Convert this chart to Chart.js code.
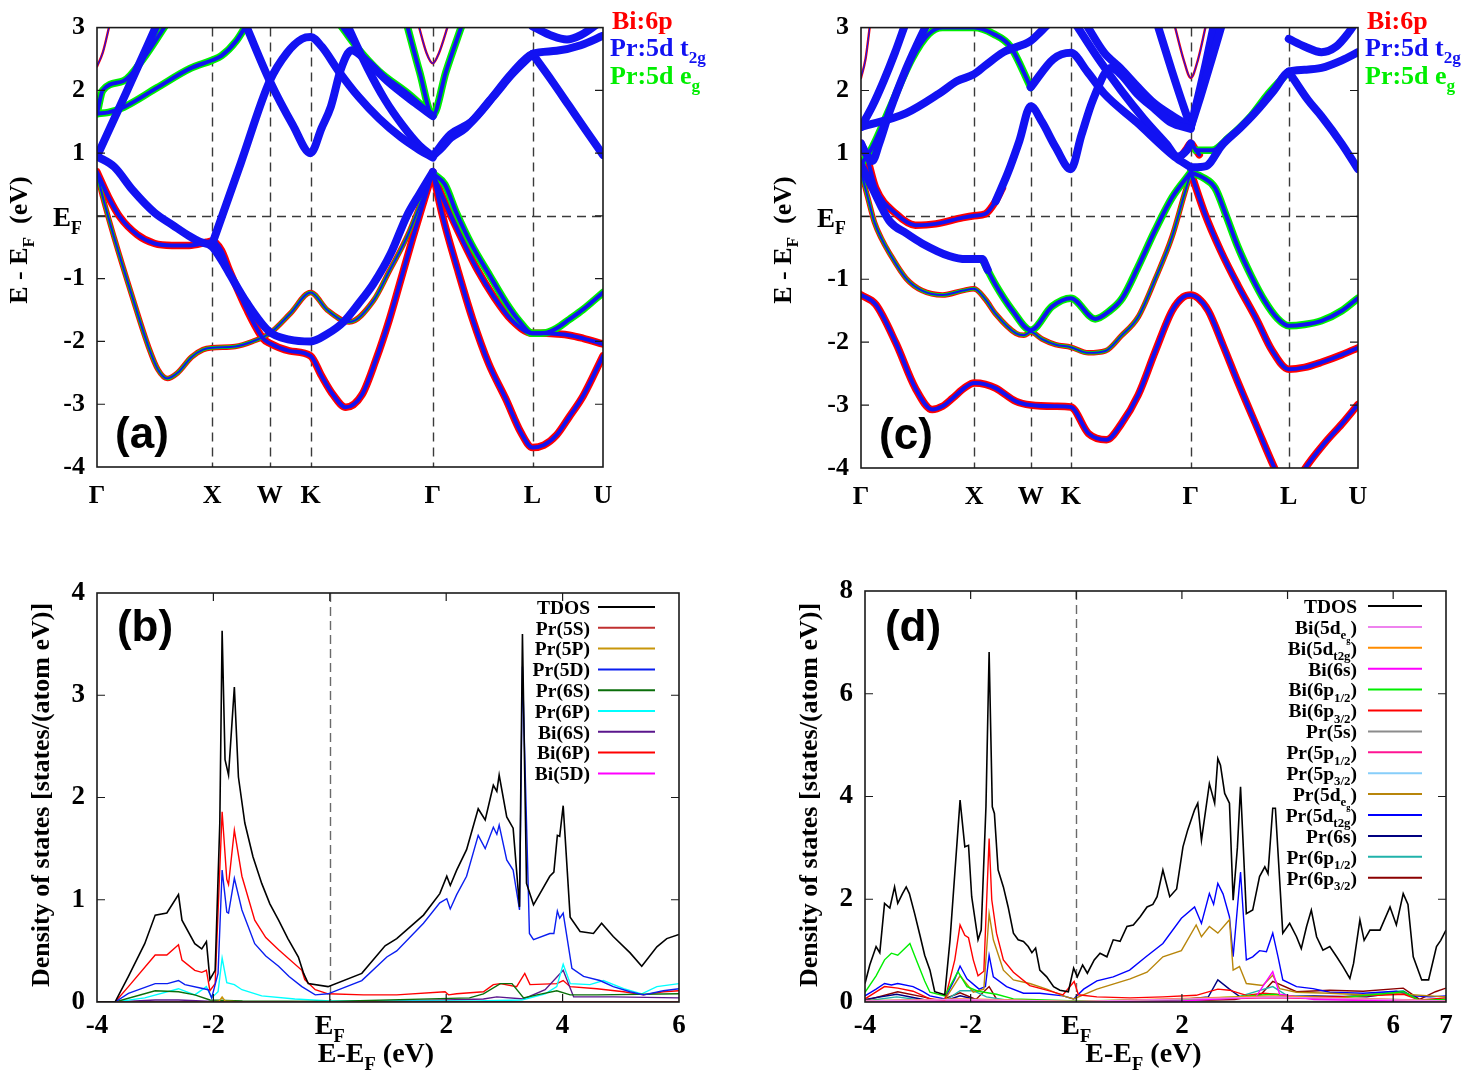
<!DOCTYPE html>
<html>
<head>
<title>Band structure and DOS</title>
<script src="https://cdn.jsdelivr.net/npm/chart.js"></script>
<style>
    body { margin: 0; background: #fff; }
    canvas { position: absolute; }
</style>
</head>
<body>
<canvas id="bandA"></canvas>
<canvas id="bandC"></canvas>
<canvas id="dosB"></canvas>
<canvas id="dosD"></canvas>
<script>
// ---- k-path (high-symmetry points) ----
const kTicks = [0, 1.0, 1.5, 1.854, 2.915, 3.781, 4.393];
const kLabels = ['Γ', 'X', 'W', 'K', 'Γ', 'L', 'U'];

// ---- panel (a) bands: [k, E-EF] ----
const aB1 = [[0,0.68],[0.05,0.3],[0.15,-0.35],[0.3,-1.25],[0.45,-2.1],[0.53,-2.45],[0.61,-2.59],[0.7,-2.5],[0.82,-2.25],[0.92,-2.13],[1.0,-2.1],[1.2,-2.08],[1.35,-2.0],[1.5,-1.87],[1.68,-1.55],[1.854,-1.22],[2.0,-1.5],[2.19,-1.69],[2.4,-1.35],[2.54,-0.87],[2.7,-0.3],[2.83,0.3],[2.915,0.68]];
const aB1r = [[2.915,0.68],[3.02,0.5],[3.12,0.05],[3.25,-0.45],[3.41,-0.95],[3.55,-1.38],[3.66,-1.66],[3.781,-1.87],[3.9,-1.86],[3.99,-1.79],[4.1,-1.65],[4.22,-1.49],[4.393,-1.22]];
const aB2 = [[0,0.7],[0.1,0.3],[0.2,-0.02],[0.35,-0.3],[0.5,-0.44],[0.65,-0.47],[0.8,-0.47],[0.95,-0.42],[1.0,-0.4],[1.08,-0.55],[1.15,-0.87],[1.3,-1.49],[1.44,-1.95],[1.5,-2.03],[1.67,-2.15],[1.854,-2.23],[1.95,-2.55],[2.05,-2.85],[2.16,-3.05],[2.3,-2.85],[2.42,-2.3],[2.54,-1.64],[2.64,-1.0],[2.74,-0.36],[2.84,0.25],[2.915,0.7]];
const aB2r = [[2.915,0.7],[3.0,0.0],[3.13,-0.85],[3.26,-1.64],[3.4,-2.35],[3.55,-2.92],[3.68,-3.45],[3.781,-3.69],[3.88,-3.65],[3.99,-3.49],[4.1,-3.2],[4.22,-2.87],[4.393,-2.23]];
const aB3r = [[2.915,0.68],[3.0,0.3],[3.15,-0.3],[3.3,-0.85],[3.45,-1.3],[3.6,-1.66],[3.781,-1.87],[3.9,-1.87],[4.0,-1.88],[4.1,-1.9],[4.22,-1.95],[4.393,-2.04]];
const aB3 = [[0,0.95],[0.15,0.78],[0.31,0.41],[0.5,0.05],[0.66,-0.15],[0.8,-0.32],[0.89,-0.41],[1.0,-0.49],[1.08,-0.7],[1.15,-0.92],[1.3,-1.38],[1.5,-1.85],[1.67,-1.97],[1.854,-2.0],[2.0,-1.88],[2.14,-1.69],[2.27,-1.4],[2.4,-1.08],[2.55,-0.6],[2.69,0.0],[2.8,0.35],[2.915,0.7]];
const aB4 = [[0,0.95],[0.25,1.95],[0.52,3.05]];
const aB5 = [[1.0,-0.45],[1.25,0.85],[1.5,2.15],[1.65,2.6],[1.78,2.82],[1.854,2.85],[1.95,2.7],[2.1,2.3],[2.27,1.9],[2.45,1.55],[2.64,1.25],[2.8,1.05],[2.915,0.93]];
const aB6 = [[1.29,3.05],[1.5,2.15],[1.7,1.45],[1.854,1.0],[1.95,1.4],[2.03,1.74],[2.12,2.35],[2.21,2.64],[2.35,2.45],[2.52,2.15],[2.76,1.8],[2.915,1.59]];
const aB7 = [[2.17,3.05],[2.35,2.35],[2.5,1.85],[2.65,1.45],[2.8,1.12],[2.915,0.95]];
const aB8 = [[2.11,3.05],[2.25,2.7],[2.45,2.3],[2.7,1.95],[2.915,1.6]];
const aB9 = [[2.69,3.05],[2.8,2.3],[2.915,1.6],[3.03,2.3],[3.17,3.05]];
const aB10 = [[2.79,3.05],[2.86,2.6],[2.915,2.43],[2.97,2.6],[3.05,3.05]];
const aB11 = [[2.915,0.95],[3.0,1.1],[3.07,1.24],[3.2,1.4],[3.41,1.84],[3.6,2.27],[3.781,2.58],[3.99,2.63],[4.2,2.72],[4.393,2.87]];
const aB11b = [[2.915,0.95],[3.07,1.3],[3.25,1.5],[3.45,1.92],[3.6,2.25],[3.781,2.58]];
const aB12 = [[3.781,2.58],[3.95,2.15],[4.1,1.75],[4.25,1.35],[4.393,0.97]];
const aB13 = [[3.781,3.02],[3.95,2.87],[4.08,2.81],[4.2,2.88],[4.34,3.05]];
const aB14 = [[0,1.63],[0.1,1.65],[0.23,1.73],[0.52,2.04],[0.81,2.35],[1.0,2.48],[1.08,2.55],[1.21,2.79],[1.3,3.05]];
const aB15 = [[0,1.63],[0.05,2.0],[0.23,2.15],[0.4,2.5],[0.6,3.05]];
const aB16 = [[0,2.38],[0.05,2.6],[0.11,3.05]];

// ---- panel (c) bands ----
const cB1 = [[0,-1.25],[0.13,-1.4],[0.31,-2.02],[0.48,-2.73],[0.63,-3.07],[0.72,-3.02],[0.81,-2.89],[0.92,-2.72],[1.0,-2.65],[1.1,-2.67],[1.19,-2.73],[1.37,-2.94],[1.5,-3.0],[1.72,-3.02],[1.854,-3.03],[2.01,-3.45],[2.17,-3.55],[2.3,-3.3],[2.45,-2.84],[2.6,-2.15],[2.75,-1.5],[2.85,-1.28],[2.915,-1.25],[2.98,-1.3],[3.07,-1.5],[3.2,-2.05],[3.33,-2.63],[3.5,-3.35],[3.66,-4.02],[3.781,-4.45],[3.92,-4.02],[4.1,-3.6],[4.25,-3.3],[4.393,-2.99]];
const cB2 = [[0,0.7],[0.06,0.3],[0.12,-0.1],[0.18,-0.35],[0.25,-0.58],[0.4,-0.99],[0.54,-1.18],[0.72,-1.25],[0.9,-1.18],[1.0,-1.15],[1.1,-1.32],[1.19,-1.55],[1.37,-1.86],[1.44,-1.89],[1.5,-1.84],[1.6,-1.95],[1.72,-2.04],[1.854,-2.08],[2.01,-2.17],[2.16,-2.14],[2.3,-1.9],[2.45,-1.6],[2.6,-1.0],[2.75,-0.32],[2.85,0.3],[2.915,0.7]];
const cB2r = [[2.915,0.7],[3.04,0.04],[3.18,-0.55],[3.33,-1.09],[3.5,-1.65],[3.63,-2.12],[3.781,-2.43],[3.92,-2.4],[4.07,-2.32],[4.25,-2.2],[4.393,-2.09]];
const cB3a = [[0,0.82],[0.1,0.45],[0.25,-0.07],[0.4,-0.27],[0.54,-0.43],[0.78,-0.63],[0.93,-0.68],[1.0,-0.68],[1.07,-0.68],[1.12,-0.85]];
const cB3b = [[1.07,-0.68],[1.19,-1.09],[1.34,-1.5],[1.5,-1.81],[1.69,-1.43],[1.854,-1.3],[2.07,-1.63],[2.2,-1.5],[2.31,-1.3],[2.45,-0.8],[2.6,-0.22],[2.75,0.3],[2.915,0.7]];
const cB3r = [[2.915,0.7],[3.02,0.62],[3.13,0.45],[3.23,0.0],[3.33,-0.48],[3.45,-0.95],[3.57,-1.35],[3.68,-1.62],[3.781,-1.74],[3.92,-1.72],[4.07,-1.66],[4.25,-1.5],[4.393,-1.3]];
const cB4a = [[0,1.16],[0.05,0.95],[0.13,0.45],[0.31,0.04],[0.48,-0.14],[0.66,-0.12],[0.9,-0.02],[1.0,0.01],[1.1,0.04],[1.19,0.24],[1.25,0.45]];
const cB4b = [[1.19,0.24],[1.3,0.7],[1.4,1.2],[1.5,1.75],[1.6,1.5],[1.72,1.1],[1.854,0.75],[1.95,1.3],[2.05,1.85],[2.21,2.36],[2.3,2.25],[2.44,1.95],[2.6,1.7],[2.74,1.49],[2.915,1.39]];
const cB5 = [[0,0.82],[0.1,1.1],[0.25,1.7],[0.45,2.5],[0.6,2.9],[0.72,3.0],[1.0,3.0],[1.17,2.9],[1.32,2.7],[1.5,2.05]];
const cB5b = [[1.5,2.05],[1.7,2.5],[1.854,2.6],[2.0,2.3],[2.15,1.95],[2.44,1.49],[2.77,0.95],[2.915,0.78]];
const cB6 = [[0,1.42],[0.4,1.64],[0.69,1.95],[0.85,2.15],[1.0,2.26],[1.1,2.4],[1.26,2.61],[1.5,2.79],[1.58,2.92],[1.65,3.05]];
const cB7 = [[0,1.16],[0.05,0.98],[0.1,0.88],[0.16,1.15],[0.25,1.65],[0.4,2.35],[0.5,2.75],[0.58,3.05]];
const cB8 = [[0,1.42],[0.1,1.75],[0.2,2.15],[0.3,2.6],[0.39,3.05]];
const cB9 = [[0,2.2],[0.04,2.5],[0.08,3.05]];
const cB10 = [[1.99,3.05],[2.15,2.6],[2.29,2.36],[2.45,2.05],[2.59,1.8],[2.75,1.6],[2.915,1.42]];
const cB11 = [[1.9,3.05],[2.1,2.5],[2.3,2.0],[2.5,1.55],[2.7,1.15],[2.8,0.95],[2.88,1.05],[2.915,1.16]];
const cB12 = [[2.84,0.98],[2.88,1.08],[2.915,1.16],[2.95,1.08],[2.99,0.98]];
const cB13 = [[2.915,1.42],[3.0,1.9],[3.1,2.5],[3.19,3.05]];
const cB14 = [[2.915,1.42],[2.98,1.9],[3.05,2.45],[3.12,3.05]];
const cB15 = [[2.77,3.05],[2.85,2.5],[2.915,2.2],[2.98,2.5],[3.05,3.05]];
const cB16 = [[2.62,3.05],[2.75,2.3],[2.86,1.7],[2.915,1.42]];
const cB17 = [[2.915,0.78],[3.05,0.8],[3.19,1.13],[3.35,1.4],[3.48,1.64],[3.65,2.0],[3.781,2.3],[3.92,2.33],[4.07,2.36],[4.25,2.48],[4.393,2.61]];
const cB18 = [[2.96,1.05],[3.1,1.05],[3.25,1.25],[3.45,1.6],[3.6,1.95],[3.781,2.3]];
const cB19 = [[3.781,2.3],[3.95,1.85],[4.07,1.59],[4.25,1.15],[4.393,0.75]];
const cB20 = [[3.781,2.82],[3.92,2.7],[4.07,2.61],[4.2,2.7],[4.31,2.92],[4.36,3.05]];

// orbital character of each band: bi = Bi 6p weight, eg = Pr 5d eg, t2g = Pr 5d t2g
const bandsA = [[aB1,'mix'],[aB1r,'eg'],[aB2,'bi'],[aB2r,'bi'],[aB3r,'bi'],[aB3,'t2g'],[aB4,'t2g'],[aB5,'t2g'],[aB6,'t2g'],[aB7,'t2g'],[aB8,'eg'],[aB9,'eg'],[aB10,'thin'],[aB11,'t2g'],[aB11b,'t2g'],[aB12,'t2g'],[aB13,'t2g'],[aB14,'eg'],[aB15,'eg'],[aB16,'thin']];
const bandsC = [[cB1,'bi'],[cB2,'mix'],[cB2r,'bi'],[cB3a,'t2g'],[cB3b,'eg'],[cB3r,'eg'],[cB4a,'bi'],[cB4b,'t2g'],[cB5,'eg'],[cB5b,'t2g'],[cB6,'t2g'],[cB7,'t2g'],[cB8,'t2g'],[cB9,'thin'],[cB10,'t2g'],[cB11,'t2g'],[cB12,'bi'],[cB13,'t2g'],[cB14,'t2g'],[cB15,'thin'],[cB16,'t2g'],[cB17,'t2g'],[cB18,'eg'],[cB19,'t2g'],[cB20,'t2g']];

// ---- panel (b) DOS: [E-EF, states/(atom eV)] ----
const bTdos = [[-4,0],[-3.69,0],[-3.46,0.25],[-3.18,0.57],[-3.0,0.85],[-2.8,0.87],[-2.6,1.05],[-2.54,0.8],[-2.32,0.57],[-2.2,0.52],[-2.12,0.59],[-2.06,0.22],[-1.97,0.31],[-1.89,1.75],[-1.85,3.63],[-1.8,2.37],[-1.74,2.22],[-1.64,3.08],[-1.57,2.2],[-1.46,1.75],[-1.32,1.42],[-1.17,1.16],[-1.03,0.96],[-0.88,0.8],[-0.72,0.62],[-0.54,0.44],[-0.45,0.28],[-0.37,0.18],[-0.03,0.15],[0.55,0.28],[0.95,0.55],[1.15,0.62],[1.61,0.85],[1.89,1.06],[2.01,1.23],[2.07,1.14],[2.18,1.29],[2.35,1.49],[2.55,1.89],[2.67,1.78],[2.81,2.12],[2.87,2.06],[2.91,2.22],[3.04,1.81],[3.15,1.7],[3.26,0.93],[3.31,3.6],[3.38,1.16],[3.5,0.95],[3.78,1.23],[3.85,1.27],[3.91,1.63],[3.95,1.62],[4.01,1.92],[4.13,0.83],[4.3,0.69],[4.53,0.67],[4.67,0.77],[4.87,0.64],[5.16,0.48],[5.36,0.35],[5.62,0.54],[5.79,0.62],[6.0,0.66]];
const bPr5S = [[-4,0],[6,0.003]];
const bPr5P = [[-4,0],[-2.0,0],[-1.9,0.01],[-1.85,0.05],[-1.8,0.01],[-1.5,0],[6,0]];
const bPr5D = [[-4,0],[-3.69,0],[-3.46,0.085],[-3.0,0.18],[-2.79,0.18],[-2.6,0.21],[-2.49,0.17],[-2.09,0.12],[-2.03,0.04],[-1.92,0.28],[-1.85,1.29],[-1.77,0.88],[-1.74,0.87],[-1.64,1.21],[-1.51,0.9],[-1.29,0.57],[-1.1,0.45],[-0.88,0.35],[-0.7,0.25],[-0.48,0.15],[-0.25,0.07],[-0.03,0.08],[0.55,0.21],[0.98,0.44],[1.15,0.5],[1.61,0.77],[1.89,0.97],[2.01,1.01],[2.07,0.91],[2.18,1.05],[2.35,1.23],[2.55,1.63],[2.67,1.5],[2.81,1.71],[2.87,1.64],[2.91,1.73],[3.04,1.39],[3.15,1.29],[3.26,0.9],[3.31,3.28],[3.43,0.67],[3.5,0.61],[3.78,0.67],[3.85,0.67],[3.91,0.89],[3.95,0.82],[4.01,0.87],[4.16,0.33],[4.36,0.25],[4.64,0.21],[4.87,0.15],[5.16,0.1],[5.39,0.07],[5.73,0.11],[6.0,0.13]];
const bPr6S = [[-4,0],[-3.69,0],[-3.0,0.11],[-2.6,0.1],[-2.32,0.07],[-2.06,0.02],[-1.5,0.01],[0,0.005],[2.4,0.04],[2.64,0.08],[2.93,0.18],[3.13,0.18],[3.33,0.04],[3.56,0.07],[3.9,0.11],[4.13,0.07],[4.59,0.07],[6.0,0.08]];
const bPr6P = [[-4,0],[-3.69,0],[-3.18,0.04],[-2.6,0.13],[-2.32,0.07],[-2.12,0.15],[-2.03,0.04],[-1.92,0.1],[-1.85,0.43],[-1.77,0.19],[-1.64,0.17],[-1.51,0.12],[-1.17,0.06],[-0.6,0.03],[0,0.01],[2.5,0.01],[3.3,0.02],[3.7,0.08],[3.9,0.15],[4.01,0.37],[4.13,0.18],[4.47,0.17],[4.7,0.21],[5.05,0.13],[5.36,0.08],[5.62,0.15],[6.0,0.18]];
const bBi6S = [[-4,0],[-3.69,0],[-3.0,0.02],[-2.6,0.02],[-2.0,0.005],[0,0],[2.0,0.02],[2.64,0.03],[2.87,0.05],[3.33,0.03],[3.7,0.12],[4.01,0.31],[4.19,0.05],[4.87,0.05],[6.0,0.04]];
const bBi6P = [[-4,0],[-3.69,0],[-3.46,0.15],[-3.0,0.46],[-2.8,0.46],[-2.6,0.56],[-2.54,0.41],[-2.32,0.31],[-2.2,0.29],[-2.12,0.31],[-2.06,0.11],[-1.97,0.18],[-1.85,1.86],[-1.77,1.2],[-1.74,1.15],[-1.64,1.68],[-1.51,1.23],[-1.29,0.8],[-1.1,0.63],[-0.88,0.51],[-0.48,0.31],[-0.43,0.22],[-0.25,0.12],[-0.03,0.08],[0.58,0.07],[1.15,0.07],[1.98,0.1],[2.04,0.07],[2.18,0.08],[2.64,0.1],[2.81,0.17],[2.93,0.18],[3.21,0.15],[3.35,0.28],[3.44,0.17],[3.9,0.18],[4.01,0.21],[4.13,0.15],[4.59,0.13],[5.05,0.1],[5.39,0.07],[5.73,0.1],[6.0,0.11]];
const bBi5D = [[-4,0],[6,0]];

// ---- panel (d) DOS ----
const dTdos = [[-4,0.36],[-3.91,0.72],[-3.79,1.08],[-3.72,0.96],[-3.63,1.92],[-3.53,1.83],[-3.44,2.24],[-3.38,1.92],[-3.29,2.11],[-3.22,2.24],[-3.16,2.11],[-3.06,1.72],[-2.96,1.3],[-2.87,0.91],[-2.77,0.62],[-2.68,0.2],[-2.49,0.14],[-2.39,1.21],[-2.3,2.5],[-2.2,3.93],[-2.11,3.02],[-2.04,3.05],[-1.98,2.05],[-1.86,1.21],[-1.8,1.4],[-1.71,3.8],[-1.65,6.81],[-1.59,3.8],[-1.55,3.67],[-1.48,2.57],[-1.38,2.24],[-1.29,1.85],[-1.19,1.34],[-1.1,1.21],[-1.0,1.18],[-0.91,1.08],[-0.84,0.96],[-0.77,1.05],[-0.69,0.62],[-0.56,0.49],[-0.43,0.3],[-0.31,0.23],[-0.15,0.2],[-0.05,0.66],[0.02,0.49],[0.12,0.72],[0.21,0.56],[0.34,0.82],[0.45,0.95],[0.58,0.88],[0.7,1.21],[0.83,1.18],[0.96,1.47],[1.08,1.5],[1.21,1.66],[1.34,1.85],[1.45,1.9],[1.53,2.05],[1.64,2.57],[1.77,2.05],[1.9,2.2],[2.02,3.02],[2.11,3.35],[2.24,3.74],[2.3,3.87],[2.37,3.15],[2.52,4.25],[2.62,3.87],[2.68,4.74],[2.73,4.61],[2.81,4.06],[2.9,3.87],[2.97,1.98],[3.05,3.0],[3.11,4.19],[3.22,1.72],[3.34,1.79],[3.47,2.44],[3.57,2.63],[3.63,2.5],[3.72,3.77],[3.77,3.77],[3.91,1.34],[4.04,1.53],[4.17,1.27],[4.26,1.04],[4.36,1.47],[4.45,1.79],[4.55,1.27],[4.67,1.01],[4.8,1.08],[4.93,0.88],[5.05,0.69],[5.18,0.46],[5.25,0.75],[5.37,1.6],[5.45,1.2],[5.56,1.4],[5.75,1.4],[5.94,1.85],[6.06,1.5],[6.19,2.11],[6.28,1.9],[6.38,0.88],[6.54,0.43],[6.67,0.43],[6.82,1.08],[6.9,1.2],[7.0,1.4]];
const dBi5deg = [[-4,0.02],[-2.2,0.05],[-1.65,0.04],[0,0.01],[3.72,0.1],[7,0.02]];
const dBi5dt2g = [[-4,0.02],[-2.2,0.06],[-1.65,0.05],[0,0.01],[3.72,0.12],[7,0.02]];
const dBi6s = [[-4,0.01],[-2,0.01],[0,0],[2,0.02],[3.4,0.1],[3.72,0.59],[3.85,0.15],[4.5,0.05],[5.5,0.03],[7,0.02]];
const dBi6p12 = [[-4,0.19],[-3.79,0.51],[-3.63,0.82],[-3.5,0.95],[-3.38,0.91],[-3.15,1.14],[-3.03,0.82],[-2.87,0.41],[-2.77,0.19],[-2.49,0.12],[-2.24,0.59],[-2.07,0.3],[-1.86,0.21],[-1.51,0.15],[-1.19,0.06],[0,0.02],[2.0,0.05],[3.0,0.1],[3.72,0.15],[4.2,0.1],[5.0,0.08],[6.19,0.2],[6.5,0.03],[7,0.05]];
const dBi6p32 = [[-4,0.06],[-3.63,0.3],[-3.38,0.27],[-3.09,0.21],[-2.77,0.06],[-2.49,0.03],[-2.3,0.82],[-2.2,1.5],[-2.11,1.3],[-2.04,1.25],[-1.95,0.82],[-1.86,0.51],[-1.75,0.6],[-1.65,3.18],[-1.6,1.99],[-1.51,1.34],[-1.38,0.82],[-1.19,0.58],[-0.88,0.32],[-0.56,0.23],[-0.25,0.14],[-0.04,0.4],[0.04,0.14],[0.39,0.1],[1.02,0.08],[1.64,0.1],[2.27,0.13],[2.68,0.25],[2.9,0.23],[3.22,0.13],[3.53,0.17],[3.8,0.15],[4.17,0.1],[5.0,0.1],[6.2,0.15],[6.5,0.04],[7,0.08]];
const dPr5s = [[-4,0.01],[7,0.01]];
const dPr5p12 = [[-4,0.02],[-2.2,0.04],[0,0.01],[3.72,0.08],[7,0.02]];
const dPr5p32 = [[-4,0.02],[-2.2,0.05],[0,0.01],[3.72,0.1],[7,0.03]];
const dPr5deg = [[-4,0.03],[-2.6,0.03],[-2.49,0.04],[-2.2,0.51],[-1.95,0.19],[-1.75,0.25],[-1.65,1.72],[-1.57,1.21],[-1.38,0.62],[-1.19,0.43],[-0.88,0.36],[-0.56,0.25],[-0.25,0.12],[-0.05,0.06],[0.39,0.25],[1.02,0.45],[1.34,0.58],[1.64,0.88],[1.99,1.0],[2.27,1.5],[2.37,1.27],[2.52,1.47],[2.68,1.34],[2.9,1.6],[2.97,0.62],[3.09,0.69],[3.22,0.36],[3.53,0.32],[3.72,0.52],[3.85,0.26],[4.17,0.19],[4.8,0.17],[5.43,0.14],[6.06,0.16],[7.0,0.1]];
const dPr5dt2g = [[-4,0.12],[-3.79,0.25],[-3.63,0.36],[-3.5,0.33],[-3.38,0.36],[-3.09,0.3],[-2.9,0.2],[-2.77,0.12],[-2.49,0.06],[-2.3,0.45],[-2.2,0.7],[-2.07,0.45],[-1.84,0.25],[-1.72,0.3],[-1.65,0.91],[-1.57,0.49],[-1.32,0.3],[-1.0,0.17],[-0.69,0.17],[-0.25,0.12],[-0.05,0.06],[0.14,0.25],[0.39,0.41],[0.7,0.49],[1.01,0.62],[1.32,0.88],[1.64,1.14],[1.99,1.63],[2.24,1.85],[2.37,1.53],[2.52,2.11],[2.6,1.9],[2.68,2.31],[2.78,2.1],[2.9,1.66],[2.97,0.88],[3.11,2.53],[3.22,0.82],[3.34,0.88],[3.47,1.0],[3.6,0.98],[3.72,1.34],[3.82,0.88],[3.91,0.43],[4.17,0.3],[4.48,0.26],[4.8,0.19],[5.43,0.17],[6.06,0.21],[6.38,0.12],[6.7,0.1],[7.0,0.12]];
const dPr6s = [[-4,0.05],[-3.4,0.15],[-2.8,0.03],[-2.49,0.02],[-2.2,0.12],[-1.9,0.05],[-1.0,0.01],[0,0.01],[2.0,0.05],[2.5,0.1],[2.68,0.43],[2.9,0.25],[3.1,0.1],[3.72,0.1],[4.5,0.12],[5.5,0.1],[6.2,0.2],[6.5,0.03],[7,0.05]];
const dPr6p12 = [[-4,0.02],[-3.4,0.1],[-2.8,0.02],[-2.49,0.02],[-2.2,0.22],[-1.95,0.22],[-1.7,0.1],[-1.2,0.02],[0,0.01],[2,0.03],[3,0.08],[3.72,0.3],[4,0.12],[5,0.1],[6.19,0.22],[6.5,0.02],[7,0.05]];
const dPr6p32 = [[-4,0.03],[-3.38,0.2],[-2.9,0.1],[-2.6,0.02],[-2.2,0.18],[-1.9,0.05],[-1.65,0.3],[-1.5,0.04],[0,0.01],[2,0.02],[3.0,0.05],[3.5,0.15],[3.72,0.4],[4.17,0.2],[4.8,0.23],[5.43,0.21],[6.19,0.27],[6.5,0.05],[6.8,0.2],[7.0,0.27]];

// legend entries: [label runs, series]
const seriesB = [
    [['TDOS'], bTdos], [['Pr(5S)'], bPr5S], [['Pr(5P)'], bPr5P], [['Pr(5D)'], bPr5D],
    [['Pr(6S)'], bPr6S], [['Pr(6P)'], bPr6P], [['Bi(6S)'], bBi6S], [['Bi(6P)'], bBi6P], [['Bi(5D)'], bBi5D]
];
const seriesD = [
    [['TDOS'], dTdos],
    [['Bi(5d', ['e', 1], ['g', 2], ')'], dBi5deg],
    [['Bi(5d', ['t2g', 1], ')'], dBi5dt2g],
    [['Bi(6s)'], dBi6s],
    [['Bi(6p', ['1/2', 1], ')'], dBi6p12],
    [['Bi(6p', ['3/2', 1], ')'], dBi6p32],
    [['Pr(5s)'], dPr5s],
    [['Pr(5p', ['1/2', 1], ')'], dPr5p12],
    [['Pr(5p', ['3/2', 1], ')'], dPr5p32],
    [['Pr(5d', ['e', 1], ['g', 2], ')'], dPr5deg],
    [['Pr(5d', ['t2g', 1], ')'], dPr5dt2g],
    [['Pr(6s)'], dPr6s],
    [['Pr(6p', ['1/2', 1], ')'], dPr6p12],
    [['Pr(6p', ['3/2', 1], ')'], dPr6p32]
];

// ---------------- styling ----------------
const SERIF = '"Liberation Serif", "Times New Roman", serif';
const SANS = '"Liberation Sans", Arial, sans-serif';
const RED = '#ff0000', BLUE = '#1212f2', GREEN = '#00ee00';
const colorsB = ['#000000', '#c03030', '#c8960a', '#0a1ef0', '#0a6e0a', '#00ffff', '#5a168c', '#ff0000', '#ff00ff'];
const colorsD = ['#000000', '#ee82ee', '#ff8c00', '#ff00ff', '#00ee00', '#ff0000', '#8c8c8c', '#ff1493',
                 '#87cefa', '#b8860b', '#0000ff', '#000080', '#20b2aa', '#8b0000'];

// layers per orbital character: [color, width, order]
const bandLayers = {
    bi:   [[RED, 7.5, 6], [BLUE, 4, 1]],
    eg:   [[GREEN, 7.5, 5], [BLUE, 4, 1]],
    t2g:  [[BLUE, 8, 3]],
    mix:  [[RED, 5.5, 6], [GREEN, 3.5, 5], [BLUE, 2, 1]],
    thin: [[RED, 2.4, 6], [BLUE, 1.1, 1]]
};

const panels = {
    a: { box: { x: 0, y: 0, w: 740, h: 540 },     area: { l: 97, t: 13, r: 603, b: 467 } },
    c: { box: { x: 740, y: 0, w: 738, h: 540 },   area: { l: 861, t: 13, r: 1358, b: 468 } },
    b: { box: { x: 0, y: 560, w: 740, h: 532 },   area: { l: 97, t: 593, r: 679, b: 1002 } },
    d: { box: { x: 740, y: 560, w: 738, h: 532 }, area: { l: 865, t: 591, r: 1446, b: 1002 } }
};

function drawRuns(ctx, x, y, runs, size, color, align, rotate, family, weight) {
    ctx.save();
    ctx.translate(x, y);
    if (rotate) ctx.rotate(rotate);
    const parts = runs.map(r => {
        const t = Array.isArray(r) ? r[0] : r;
        const lvl = Array.isArray(r) ? r[1] : 0;
        const s = size * Math.pow(0.66, lvl);
        const font = `${weight || 'bold'} ${s}px ${family || SERIF}`;
        ctx.font = font;
        const dy = lvl === 0 ? 0 : lvl === 1 ? size * 0.28 : size * 0.46;
        return { t, font, w: ctx.measureText(t).width, dy };
    });
    const total = parts.reduce((s, p) => s + p.w, 0);
    let px = align === 'right' ? -total : align === 'center' ? -total / 2 : 0;
    ctx.fillStyle = color || '#000';
    ctx.textBaseline = 'alphabetic';
    const base = size * 0.35;
    parts.forEach(p => { ctx.font = p.font; ctx.fillText(p.t, px, base + p.dy); px += p.w; });
    ctx.restore();
}

function makeDecor(panel, cfg) {
    const ox = panel.box.x, oy = panel.box.y;
    return {
        id: 'decor',
        beforeDatasetsDraw(chart) {
            const { ctx, chartArea: a, scales: { x, y } } = chart;
            ctx.save();
            ctx.strokeStyle = cfg.dashColor;
            ctx.lineWidth = 1.4;
            ctx.setLineDash(cfg.dash);
            (cfg.vLines || []).forEach(v => {
                const px = Math.round(x.getPixelForValue(v)) + 0.5;
                ctx.beginPath(); ctx.moveTo(px, a.top); ctx.lineTo(px, a.bottom); ctx.stroke();
            });
            (cfg.hLines || []).forEach(v => {
                const py = Math.round(y.getPixelForValue(v)) + 0.5;
                ctx.beginPath(); ctx.moveTo(a.left, py); ctx.lineTo(a.right, py); ctx.stroke();
            });
            ctx.restore();
        },
        afterDraw(chart) {
            const { ctx, chartArea: a, scales: { x, y } } = chart;
            ctx.save();
            ctx.strokeStyle = '#1a1a1a';
            ctx.lineWidth = 1.6;
            ctx.strokeRect(a.left, a.top, a.right - a.left, a.bottom - a.top);
            ctx.lineWidth = 1.2;
            (cfg.yTicks || []).forEach(v => {
                const py = y.getPixelForValue(v);
                ctx.beginPath();
                ctx.moveTo(a.left, py); ctx.lineTo(a.left + 8, py);
                ctx.moveTo(a.right, py); ctx.lineTo(a.right - 8, py);
                ctx.stroke();
            });
            (cfg.xTicks || []).forEach(v => {
                const px = x.getPixelForValue(v);
                ctx.beginPath();
                ctx.moveTo(px, a.bottom); ctx.lineTo(px, a.bottom - 8);
                ctx.moveTo(px, a.top); ctx.lineTo(px, a.top + 8);
                ctx.stroke();
            });
            ctx.restore();
            // E_F tick labels
            if (cfg.efY) drawRuns(ctx, a.left - cfg.efY, y.getPixelForValue(0) + 1, ['E', ['F', 1]], 27, '#000', 'right');
            if (cfg.efX) drawRuns(ctx, x.getPixelForValue(0), a.bottom + cfg.efX, ['E', ['F', 1]], 28, '#000', 'center');
            // legend samples
            (cfg.legend || []).forEach((it, i) => {
                const ly = it.y0 - oy + i * it.dy;
                drawRuns(ctx, it.tx - ox, ly, it.runs, it.size, '#000', 'right');
                ctx.save();
                ctx.strokeStyle = it.color; ctx.lineWidth = 2;
                ctx.beginPath(); ctx.moveTo(it.x1 - ox, ly); ctx.lineTo(it.x2 - ox, ly); ctx.stroke();
                ctx.restore();
            });
            (cfg.texts || []).forEach(t => drawRuns(ctx, t.x - ox, t.y - oy, t.runs, t.size, t.color, t.align, t.rotate, t.family, t.weight));
        }
    };
}

function baseOptions(panel, xs, ys, fontSize) {
    const { box, area } = panel;
    const tickFont = { family: SERIF, size: fontSize, weight: 'bold' };
    return {
        responsive: false,
        animation: false,
        events: [],
        layout: { padding: { left: 0, bottom: 0, top: area.t - box.y, right: box.x + box.w - area.r } },
        plugins: { legend: { display: false }, tooltip: { enabled: false } },
        elements: { point: { radius: 0 } },
        scales: {
            x: Object.assign({
                type: 'linear',
                grid: { display: false, drawTicks: false },
                border: { display: false },
                ticks: Object.assign({ color: '#000', font: tickFont, autoSkip: false, maxRotation: 0 }, xs.ticks),
                afterFit: s => { s.height = box.y + box.h - area.b; }
            }, xs.opts),
            y: Object.assign({
                type: 'linear',
                grid: { display: false, drawTicks: false },
                border: { display: false },
                ticks: Object.assign({ color: '#000', font: tickFont }, ys.ticks),
                afterFit: s => { s.width = area.l - box.x; }
            }, ys.opts)
        }
    };
}

function setCanvas(id, panel) {
    const c = document.getElementById(id);
    c.width = panel.box.w; c.height = panel.box.h;
    c.style.left = panel.box.x + 'px'; c.style.top = panel.box.y + 'px';
    return c;
}

function bandDatasets(bands) {
    const out = [];
    bands.forEach(([pts, ch]) => {
        bandLayers[ch].forEach(([color, width, order]) => {
            out.push({
                data: pts.map(([x, y]) => ({ x, y })),
                borderColor: color,
                borderWidth: width,
                order,
                cubicInterpolationMode: 'monotone',
                borderCapStyle: 'round',
                borderJoinStyle: 'round',
                pointRadius: 0
            });
        });
    });
    return out;
}

function bandChart(id, panel, bands, tag) {
    const L = panel.area.r + 7;
    const opts = baseOptions(panel,
        {
            opts: { min: 0, max: 4.393, afterBuildTicks: s => { s.ticks = kTicks.map(v => ({ value: v })); } },
            ticks: { padding: 14, callback: (v, i) => kLabels[i] }
        },
        {
            opts: { min: -4, max: 3 },
            ticks: { stepSize: 1, padding: 12, callback: v => (v === 0 ? '' : v) }
        }, 26);
    const yc = panel.box.y + 240;
    const decor = makeDecor(panel, {
        dashColor: '#3a3a3a', dash: [9, 6],
        vLines: kTicks.slice(1, -1), hLines: [0],
        yTicks: [-3, -2, -1, 0, 1, 2],
        efY: 15,
        texts: [
            { x: panel.area.l - 79, y: yc, runs: ['E - E', ['F', 1], '  (eV)'], size: 26, rotate: -Math.PI / 2, align: 'center' },
            { x: L + 2, y: 20, runs: ['Bi:6p'], size: 26, color: RED },
            { x: L, y: 47, runs: ['Pr:5d t', ['2g', 1]], size: 26, color: BLUE },
            { x: L, y: 75, runs: ['Pr:5d e', ['g', 1]], size: 26, color: GREEN },
            { x: panel.area.l + 45, y: panel.area.b - 34, runs: [tag], size: 44, family: SANS, align: 'center' }
        ]
    });
    return new Chart(setCanvas(id, panel), {
        type: 'line',
        data: { datasets: bandDatasets(bands) },
        options: opts,
        plugins: [decor]
    });
}

function dosChart(id, panel, series, colors, xMax, xTickVals, yMax, yStep, legendCfg, tag) {
    const opts = baseOptions(panel,
        {
            opts: { min: -4, max: xMax, afterBuildTicks: s => { s.ticks = xTickVals.map(v => ({ value: v })); } },
            ticks: { padding: 8, callback: v => (v === 0 ? '' : v) }
        },
        {
            opts: { min: 0, max: yMax },
            ticks: { stepSize: yStep, padding: 12 }
        }, 27);
    const a = panel.area;
    const decor = makeDecor(panel, {
        dashColor: '#6a6a6a', dash: [9, 5],
        vLines: [0],
        yTicks: Array.from({ length: yMax / yStep - 1 }, (_, i) => (i + 1) * yStep),
        xTicks: xTickVals.slice(1, -1),
        efX: 22,
        legend: series.map((s, i) => Object.assign({ runs: s[0], color: colors[i] }, legendCfg)),
        texts: [
            { x: (a.l + a.r) / 2 - 12, y: 1052, runs: ['E-E', ['F', 1], ' (eV)'], size: 28, align: 'center' },
            { x: a.l - 57, y: 795, runs: ['Density of states [states/(atom eV)]'], size: 26, rotate: -Math.PI / 2, align: 'center' },
            { x: a.l + 48, y: 626, runs: [tag], size: 44, family: SANS, align: 'center' }
        ]
    });
    return new Chart(setCanvas(id, panel), {
        type: 'line',
        data: {
            datasets: series.map((s, i) => ({
                data: s[1].map(([x, y]) => ({ x, y })),
                borderColor: colors[i],
                borderWidth: i === 0 ? 1.6 : 1.4,
                tension: 0,
                pointRadius: 0
            }))
        },
        options: opts,
        plugins: [decor]
    });
}

bandChart('bandA', panels.a, bandsA, '(a)');
bandChart('bandC', panels.c, bandsC, '(c)');
dosChart('dosB', panels.b, seriesB, colorsB, 6, [-4, -2, 0, 2, 4, 6], 4, 1,
    { tx: 590, x1: 598, x2: 655, y0: 607, dy: 20.8, size: 19.5 }, '(b)');
dosChart('dosD', panels.d, seriesD, colorsD, 7, [-4, -2, 0, 2, 4, 6, 7], 8, 2,
    { tx: 1357, x1: 1368, x2: 1422, y0: 606, dy: 20.9, size: 19.5 }, '(d)');
</script>
</body>
</html>
